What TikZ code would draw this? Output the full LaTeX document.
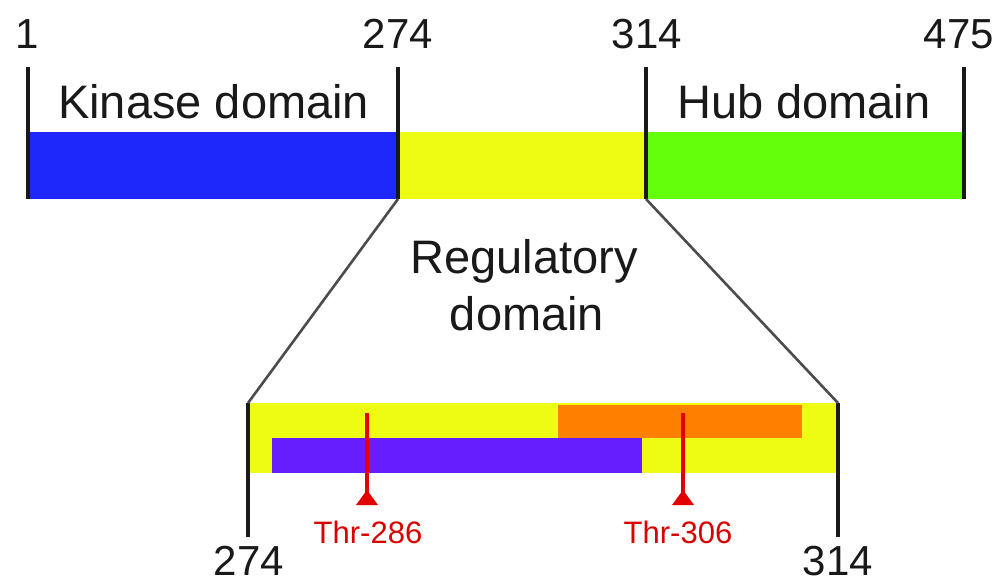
\documentclass[tikz,border=0pt]{standalone}
\usepackage{fontspec}
\setmainfont{Liberation Sans}
\begin{document}
\begin{tikzpicture}[x=1pt,y=-1pt,
  tick/.style={line width=3.8pt,black!90},
  zoomline/.style={line width=2.6pt,black!70},
  pin/.style={line width=3.8pt,red!90!black},
  lab/.style={inner sep=0pt,text=black!90,font=\fontsize{42}{50}\selectfont},
  dom/.style={inner sep=0pt,text=black!90,font=\fontsize{47}{57}\selectfont},
  thr/.style={inner sep=0pt,text=red!85!black,font=\fontsize{31}{37}\selectfont}]
\definecolor{kblue}{RGB}{30,40,250}
\definecolor{kyellow}{RGB}{238,252,20}
\definecolor{kgreen}{RGB}{100,255,10}
\definecolor{korange}{RGB}{255,128,0}
\definecolor{kpurple}{RGB}{102,30,255}
\useasboundingbox[fill=white] (0,0) rectangle (1003,582);
% top bar
\fill[kblue] (28,132) rectangle (398,199);
\fill[kyellow] (398,132) rectangle (646,199);
\fill[kgreen] (646,132) rectangle (964,199);
\coordinate (t1a) at (28,67); \coordinate (t1b) at (28,199);
\coordinate (t2a) at (398,67); \coordinate (t2b) at (398,199);
\coordinate (t3a) at (646,67); \coordinate (t3b) at (646,199);
\coordinate (t4a) at (964,67); \coordinate (t4b) at (964,199);
\draw[tick] (t1a) -- (t1b);
\draw[tick] (t2a) -- (t2b);
\draw[tick] (t3a) -- (t3b);
\draw[tick] (t4a) -- (t4b);
\node[lab,anchor=base] (n1) at (27,48) {1};
\node[lab,anchor=base] (n274) at (398,48) {274};
\node[lab,anchor=base] (n314) at (647,48) {314};
\node[lab,anchor=base] (n475) at (959,48) {475};
\node[dom,anchor=base west] (kin) at (58,118) {Kinase domain};
\node[dom,anchor=base west] (hub) at (677,118) {Hub domain};
\node[dom,anchor=base] (reg1) at (524,273) {Regulatory};
\node[dom,anchor=base] (reg2) at (527,330) {domain};
% bottom region
\fill[kyellow] (248,403) rectangle (838,473);
\fill[korange] (558,405) rectangle (802,438);
\fill[kpurple] (272,438) rectangle (642,473);
\coordinate (b1a) at (248,403); \coordinate (b1b) at (248,537);
\coordinate (b2a) at (838,403); \coordinate (b2b) at (838,537);
\draw[tick] (b1a) -- (b1b);
\draw[tick] (b2a) -- (b2b);
\draw[zoomline] (t2b) -- (b1a);
\draw[zoomline] (t3b) -- (b2a);
\node[lab,anchor=base] (m274) at (249,575) {274};
\node[lab,anchor=base] (m314) at (838,575) {314};
% pins
\coordinate (p1a) at (367,413); \coordinate (p1b) at (367,496);
\coordinate (p2a) at (683,413); \coordinate (p2b) at (683,496);
\draw[pin] (p1a) -- (p1b);
\draw[pin] (p2a) -- (p2b);
\fill[red!90!black] (356,505) -- (378,505) -- (367,490) -- cycle;
\fill[red!90!black] (672,505) -- (694,505) -- (683,490) -- cycle;
\node[thr,anchor=base] (thr1) at (368,543) {Thr-286};
\node[thr,anchor=base] (thr2) at (678,543) {Thr-306};
\end{tikzpicture}
\end{document}
